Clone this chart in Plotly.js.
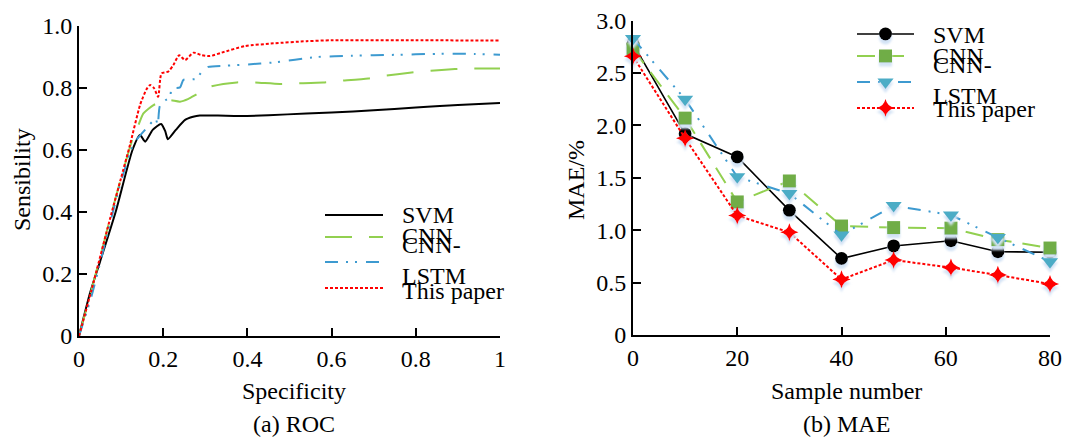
<!DOCTYPE html>
<html>
<head>
<meta charset="utf-8">
<script src="https://cdn.plot.ly/plotly-3.0.1.min.js"></script>
<style>
  html, body { margin: 0; padding: 0; background: #fff; }
  #chart { width: 1067px; height: 438px; }
</style>
</head>
<body>
<div id="chart"></div>
<script>
// ---------------- DATA ----------------
// (a) ROC: Specificity (x) vs Sensibility (y)
const svmRocX = [0, 0.026, 0.05, 0.087, 0.127, 0.145, 0.157, 0.175, 0.195, 0.205, 0.211, 0.23, 0.252, 0.271, 0.287, 0.33, 0.38, 0.45, 0.54, 0.6, 0.7, 0.8, 0.857, 0.9, 1.0];
const svmRocY = [0, 0.138, 0.24, 0.40, 0.60, 0.648, 0.627, 0.665, 0.684, 0.66, 0.635, 0.665, 0.697, 0.707, 0.711, 0.711, 0.710, 0.712, 0.718, 0.721, 0.728, 0.737, 0.742, 0.745, 0.752];

const cnnRocX = [0, 0.03, 0.078, 0.1, 0.129, 0.141, 0.153, 0.177, 0.2, 0.216, 0.24, 0.26, 0.276, 0.311, 0.375, 0.414, 0.477, 0.517, 0.58, 0.62, 0.687, 0.723, 0.79, 0.83, 0.893, 0.933, 1.0];
const cnnRocY = [0, 0.15, 0.40, 0.51, 0.643, 0.68, 0.718, 0.745, 0.758, 0.761, 0.756, 0.765, 0.777, 0.804, 0.818, 0.818, 0.813, 0.815, 0.818, 0.823, 0.831, 0.839, 0.850, 0.855, 0.861, 0.863, 0.863];

const lstmRocX = [0, 0.03, 0.06, 0.1, 0.13, 0.16, 0.182, 0.187, 0.192, 0.205, 0.216, 0.22, 0.226, 0.24, 0.248, 0.27, 0.28, 0.29, 0.307, 0.35, 0.4, 0.46, 0.565, 0.65, 0.75, 0.85, 0.94, 1.0];
const lstmRocY = [0, 0.13, 0.29, 0.50, 0.62, 0.67, 0.70, 0.68, 0.742, 0.76, 0.77, 0.80, 0.80, 0.802, 0.826, 0.828, 0.83, 0.85, 0.868, 0.872, 0.876, 0.882, 0.90, 0.904, 0.907, 0.91, 0.91, 0.907];

const ourRocX = [0, 0.03, 0.078, 0.1, 0.121, 0.145, 0.16, 0.169, 0.178, 0.188, 0.196, 0.212, 0.224, 0.238, 0.252, 0.272, 0.291, 0.311, 0.339, 0.394, 0.462, 0.541, 0.6, 0.8, 1.0];
const ourRocY = [0, 0.15, 0.40, 0.51, 0.616, 0.745, 0.795, 0.81, 0.80, 0.772, 0.847, 0.853, 0.874, 0.906, 0.89, 0.914, 0.906, 0.903, 0.914, 0.935, 0.944, 0.951, 0.954, 0.954, 0.953];

const rocXTickVals = [0, 0.2, 0.4, 0.6, 0.8, 1];
const rocXTickText = ["0", "0.2", "0.4", "0.6", "0.8", "1"];
const rocYTickVals = [0, 0.2, 0.4, 0.6, 0.8, 1.0];
const rocYTickText = ["0", "0.2", "0.4", "0.6", "0.8", "1.0"];

// (b) MAE vs sample number
const sampleNumber = [0, 10, 20, 30, 40, 50, 61, 70, 80];
const svmMae  = [2.78, 1.92, 1.70, 1.19, 0.73, 0.85, 0.90, 0.795, 0.79];
const cnnMae  = [2.73, 2.07, 1.27, 1.47, 1.04, 1.025, 1.02, 0.91, 0.83];
const lstmMae = [2.83, 2.25, 1.51, 1.35, 0.955, 1.235, 1.145, 0.93, 0.70];
const ourMae  = [2.66, 1.877, 1.14, 0.98, 0.53, 0.716, 0.643, 0.573, 0.487];

const maeXTickVals = [0, 20, 40, 60, 80];
const maeXTickText = ["0", "20", "40", "60", "80"];
const maeYTickVals = [0, 0.5, 1.0, 1.5, 2.0, 2.5, 3.0];
const maeYTickText = ["0", "0.5", "1.0", "1.5", "2.0", "2.5", "3.0"];

const seriesNames = ["SVM", "CNN", "CNN-<br>LSTM", "This paper"];

// ---------------- STYLE / LAYOUT ----------------
const W = 1067, H = 438;
const FONT = "Liberation Serif, Times New Roman, serif";
const px = v => v / W;
const py = v => 1 - v / H;

const C_BLACK = "#000000", C_GREEN = "#92d050", C_GREEN_M = "#70ad47",
      C_BLUE = "#3d9ad0", C_BLUE_M = "#4bacc6", C_RED = "#ff0000";
const DASH_GREEN_L = "27px,17px", DASH_BLUE = "13px,8px,2px,7px,2px,9px", DASH_RED = "3px,2px";
const DASH_GREEN_R = "18px,11px";

const rocLine = (x, y, color, dash, name) => ({
  type: "scatter", mode: "lines", x: x, y: y, name: name,
  xaxis: "x", yaxis: "y", showlegend: false, hoverinfo: "skip",
  line: { color: color, width: 2, dash: dash, shape: "spline", smoothing: 0.6 }
});
const maeLine = (y, color, dash, lw, sym, mcolor, msize, name) => ({
  type: "scatter", mode: "lines+markers", x: sampleNumber, y: y, name: name,
  xaxis: "x2", yaxis: "y2", showlegend: false, cliponaxis: false, hoverinfo: "skip",
  line: { color: color, width: lw, dash: dash },
  marker: { symbol: sym, color: mcolor, size: msize, line: { width: 0 } }
});

const traces = [
  rocLine(svmRocX, svmRocY, C_BLACK, "solid", seriesNames[0]),
  rocLine(cnnRocX, cnnRocY, C_GREEN, DASH_GREEN_L, seriesNames[1]),
  rocLine(lstmRocX, lstmRocY, C_BLUE, DASH_BLUE, seriesNames[2]),
  rocLine(ourRocX, ourRocY, C_RED, DASH_RED, seriesNames[3]),
  maeLine(svmMae, C_BLACK, "solid", 1.6, "circle", "#000000", 13, seriesNames[0]),
  maeLine(cnnMae, C_GREEN, DASH_GREEN_R, 2, "square", C_GREEN_M, 13, seriesNames[1]),
  maeLine(lstmMae, C_BLUE, DASH_BLUE, 2, "triangle-down", C_BLUE_M, 14, seriesNames[2]),
  maeLine(ourMae, C_RED, DASH_RED, 2, "star-diamond", C_RED, 13, seriesNames[3])
];

// ---- custom legend keys (pixel space overlay axis) ----
const legA = { x0: 325, x1: 383, rows: [215, 237, 262, 288], tx: 400, ty: [215, 236, 260, 291] };
const legB = { x0: 857, x1: 914, rows: [34, 56, 82, 108], tx: 931, ty: [35, 56, 80, 109] };
const keyStyles = [
  { c: C_BLACK, dl: "solid", dr: "solid", lw: 1.6, sym: "circle", mc: "#000000", ms: 13 },
  { c: C_GREEN, dl: DASH_GREEN_L, dr: DASH_GREEN_R, lw: 2, sym: "square", mc: C_GREEN_M, ms: 13 },
  { c: C_BLUE, dl: DASH_BLUE, dr: DASH_BLUE, lw: 2, sym: "triangle-down", mc: C_BLUE_M, ms: 14 },
  { c: C_RED, dl: DASH_RED, dr: DASH_RED, lw: 2, sym: "star-diamond", mc: C_RED, ms: 13 }
];
const annotations = [];
keyStyles.forEach((k, i) => {
  traces.push({ type: "scatter", mode: "lines", x: [legA.x0, legA.x1], y: [legA.rows[i], legA.rows[i]],
    xaxis: "x3", yaxis: "y3", showlegend: false, hoverinfo: "skip",
    line: { color: k.c, width: 2, dash: k.dl } });
  traces.push({ type: "scatter", mode: "lines", x: [legB.x0, legB.x1], y: [legB.rows[i], legB.rows[i]],
    xaxis: "x3", yaxis: "y3", showlegend: false, hoverinfo: "skip",
    line: { color: k.c, width: k.lw, dash: k.dr } });
  traces.push({ type: "scatter", mode: "markers", x: [(legB.x0 + legB.x1) / 2], y: [legB.rows[i]],
    xaxis: "x3", yaxis: "y3", showlegend: false, hoverinfo: "skip", cliponaxis: false,
    marker: { symbol: k.sym, color: k.mc, size: k.ms, line: { width: 0 } } });
  [legA, legB].forEach(L => annotations.push({
    xref: "paper", yref: "paper", x: px(L.tx), y: py(L.ty[i]), xanchor: "left", yanchor: "middle",
    text: seriesNames[i], showarrow: false, align: "left", font: { family: FONT, size: 24, color: "#000" }
  }));
});

const txt = (text, x, y, angle) => ({
  xref: "paper", yref: "paper", x: px(x), y: py(y), xanchor: "center", yanchor: "middle",
  text: text, showarrow: false, textangle: angle || 0, font: { family: FONT, size: 24, color: "#000" }
});
annotations.push(txt("Specificity", 294, 391));
annotations.push(txt("(a) ROC", 294, 424));
annotations.push(txt("Sensibility", 22, 180, -90));
annotations.push(txt("Sample number", 846, 391));
annotations.push(txt("(b) MAE", 846, 424));
annotations.push(txt("MAE/%", 576, 180, -90));

const axisBase = {
  showgrid: false, zeroline: false, showline: true, linecolor: "#000", linewidth: 2,
  ticks: "inside", ticklen: 8, tickwidth: 2, tickcolor: "#000", mirror: false,
  tickfont: { family: FONT, size: 24, color: "#000" }, fixedrange: true, ticklabelstandoff: 0
};

const layout = {
  width: W, height: H,
  margin: { l: 0, r: 0, t: 0, b: 0 },
  paper_bgcolor: "#ffffff", plot_bgcolor: "rgba(0,0,0,0)",
  showlegend: false,
  xaxis: Object.assign({}, axisBase, { domain: [px(79), px(500)], range: [0, 1], tickmode: "array",
    tickvals: rocXTickVals, ticktext: rocXTickText, anchor: "y" }),
  yaxis: Object.assign({}, axisBase, { domain: [py(336), py(26)], range: [0, 1], tickmode: "array",
    tickvals: rocYTickVals, ticktext: rocYTickText, anchor: "x" }),
  xaxis2: Object.assign({}, axisBase, { domain: [px(633), px(1050)], range: [0, 80], tickmode: "array",
    tickvals: maeXTickVals, ticktext: maeXTickText, anchor: "y2" }),
  yaxis2: Object.assign({}, axisBase, { domain: [py(335), py(20.7)], range: [0, 3], tickmode: "array",
    tickvals: maeYTickVals, ticktext: maeYTickText, anchor: "x2" }),
  xaxis3: { domain: [0, 1], range: [0, W], visible: false, fixedrange: true, anchor: "y3" },
  yaxis3: { domain: [0, 1], range: [H, 0], visible: false, fixedrange: true, anchor: "x3" },
  annotations: annotations
};

Plotly.newPlot("chart", traces, layout, { staticPlot: true, displayModeBar: false }).then(gd => {
  // light-blue drop shadow under the markers (as in the reference)
  const svg = gd.querySelector("svg.main-svg");
  const NS = "http://www.w3.org/2000/svg";
  let defs = svg.querySelector("defs");
  if (!defs) { defs = document.createElementNS(NS, "defs"); svg.insertBefore(defs, svg.firstChild); }
  const f = document.createElementNS(NS, "filter");
  f.setAttribute("id", "mshadow");
  f.setAttribute("x", "-60%"); f.setAttribute("y", "-60%");
  f.setAttribute("width", "220%"); f.setAttribute("height", "260%");
  f.innerHTML =
    '<feFlood flood-color="#d3e3f5" result="c"/>' +
    '<feComposite in="c" in2="SourceAlpha" operator="in" result="s"/>' +
    '<feGaussianBlur in="s" stdDeviation="1.3" result="b"/>' +
    '<feOffset in="b" dx="0" dy="4" result="o"/>' +
    '<feMerge><feMergeNode in="o"/><feMergeNode in="SourceGraphic"/></feMerge>';
  defs.appendChild(f);
  gd.querySelectorAll(".scatterlayer .trace .points path").forEach(p => p.setAttribute("filter", "url(#mshadow)"));
});
</script>
</body>
</html>
